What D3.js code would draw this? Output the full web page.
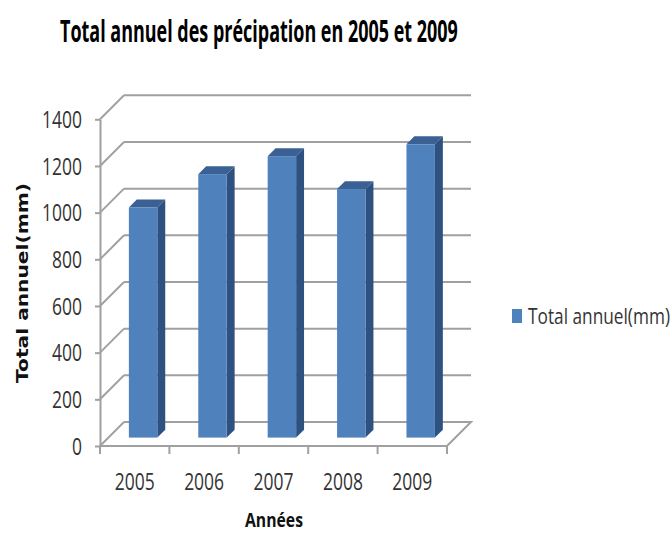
<!DOCTYPE html>
<html>
<head>
<meta charset="utf-8">
<script src="https://cdn.jsdelivr.net/npm/d3@7"></script>
<style>
  body { margin: 0; background: #fff; }
  text { font-family: "Open Sans", sans-serif; }
</style>
</head>
<body>
<div id="chart"></div>
<script>
var years = ["2005", "2006", "2007", "2008", "2009"];
var totals = [986, 1129, 1206, 1065, 1257];
var yTicks = [0, 200, 400, 600, 800, 1000, 1200, 1400];
var seriesName = "Total annuel(mm)";

var width = 672, height = 533;

// front plane of the 3d box and depth offset
var left = 100, right = 447;
var depth = {x: 24, y: 24};
var barFront = 0.35, barBack = 0.68;
var gridColor = "#a0a0a0";

var svg = d3.select("#chart").append("svg")
    .attr("width", width)
    .attr("height", height);

var x = d3.scaleBand().domain(years).range([left, right]).paddingInner(0).paddingOuter(0);
var y = d3.scaleLinear().domain([0, 1400]).range([446, 119.3]);

// squeeze a text horizontally so it takes the wanted width (the picture is stretched)
function fitText(t, px, py, w, rot) {
    var natural = t.node().getComputedTextLength();
    var s = w / natural;
    t.attr("x", 0).attr("y", 0)
        .attr("transform", `translate(${px},${py})` + (rot ? ` rotate(${rot})` : "") + ` scale(${s},1)`);
}

// back wall gridlines
svg.append("g").selectAll("line")
    .data(yTicks.slice(1))
    .enter().append("line")
    .attr("x1", left + depth.x).attr("x2", right + depth.x)
    .attr("y1", d => y(d) - depth.y).attr("y2", d => y(d) - depth.y)
    .attr("stroke", gridColor).attr("stroke-width", 2);

// side wall diagonals
svg.append("g").selectAll("line")
    .data(yTicks)
    .enter().append("line")
    .attr("x1", left).attr("x2", left + depth.x)
    .attr("y1", d => y(d)).attr("y2", d => y(d) - depth.y)
    .attr("stroke", gridColor).attr("stroke-width", 2);

// floor
var y0 = y(0);
svg.append("path")
    .attr("d", `M${left},${y0}L${right},${y0}L${right + depth.x},${y0 - depth.y}L${left + depth.x},${y0 - depth.y}`)
    .attr("fill", "none").attr("stroke", gridColor).attr("stroke-width", 2);

// y axis
var yAxis = svg.append("g")
    .attr("transform", `translate(${left},0)`)
    .call(d3.axisLeft(y).tickValues(yTicks).tickSize(5).tickSizeOuter(0).tickFormat(d3.format("d")));
yAxis.select(".domain").attr("stroke", gridColor).attr("stroke-width", 2);
yAxis.selectAll(".tick line").attr("stroke", gridColor).attr("stroke-width", 2);
yAxis.selectAll(".tick text")
    .attr("x", 0).attr("dy", "0.36em")
    .attr("transform", "translate(-18,0) scale(0.76,1)")
    .style("font-family", "'Open Sans', sans-serif")
    .style("font-size", "23px")
    .attr("fill", "#333");

// x ticks at band edges
var edges = years.map(d => x(d)).concat([right]);
svg.append("g").selectAll("line")
    .data(edges)
    .enter().append("line")
    .attr("x1", d => d).attr("x2", d => d)
    .attr("y1", y0).attr("y2", y0 + 8)
    .attr("stroke", gridColor).attr("stroke-width", 2);

svg.append("g").selectAll("text")
    .data(years)
    .enter().append("text")
    .attr("transform", d => `translate(${x(d) + x.bandwidth() / 2},489.5) scale(0.76,1)`)
    .attr("text-anchor", "middle")
    .style("font-size", "23px")
    .attr("fill", "#333")
    .text(d => d);

// 3d bars
var barW = x.bandwidth() * 0.41;
var bars = svg.append("g").selectAll("g")
    .data(years.map((d, i) => ({year: d, value: totals[i]})))
    .enter().append("g");

function face(pts) {
    return "M" + pts.map(p => p.join(",")).join("L") + "Z";
}

bars.each(function(d) {
    var g = d3.select(this);
    var cx = x(d.year) + x.bandwidth() / 2;
    var fx = cx - barW / 2 + depth.x * barFront;
    var bot = y0 - depth.y * barFront;
    var top = y(d.value) - depth.y * barFront;
    var dx = depth.x * (barBack - barFront), dy = depth.y * (barBack - barFront);
    g.append("path")
        .attr("d", face([[fx + barW, top], [fx + barW + dx, top - dy], [fx + barW + dx, bot - dy], [fx + barW, bot]]))
        .attr("fill", "#2f5180");
    g.append("path")
        .attr("d", face([[fx, top], [fx + dx, top - dy], [fx + barW + dx, top - dy], [fx + barW, top]]))
        .attr("fill", "#3a6094");
    g.append("rect")
        .attr("x", fx).attr("y", top)
        .attr("width", barW).attr("height", bot - top)
        .attr("fill", "#4f81bd");
});

// title
var title = svg.append("text")
    .style("font-size", "31px").style("font-weight", "bold")
    .attr("fill", "#000")
    .text("Total annuel des précipation en 2005 et 2009");
fitText(title, 60, 42, 398);

// y title
var yTitle = svg.append("text")
    .style("font-family", "'DejaVu Sans', sans-serif")
    .style("font-size", "16px").style("font-weight", "bold")
    .attr("fill", "#111")
    .text("Total annuel(mm)");
fitText(yTitle, 28, 383, 200, -90);

// x title
var xTitle = svg.append("text")
    .style("font-size", "19px").style("font-weight", "bold")
    .attr("fill", "#111")
    .text("Années");
fitText(xTitle, 245, 527, 58);

// legend
svg.append("rect")
    .attr("x", 512).attr("y", 309)
    .attr("width", 10).attr("height", 14)
    .attr("fill", "#4f81bd");
var legendText = svg.append("text")
    .style("font-size", "21px")
    .attr("fill", "#333")
    .text(seriesName);
fitText(legendText, 528, 324, 142);
</script>
</body>
</html>
